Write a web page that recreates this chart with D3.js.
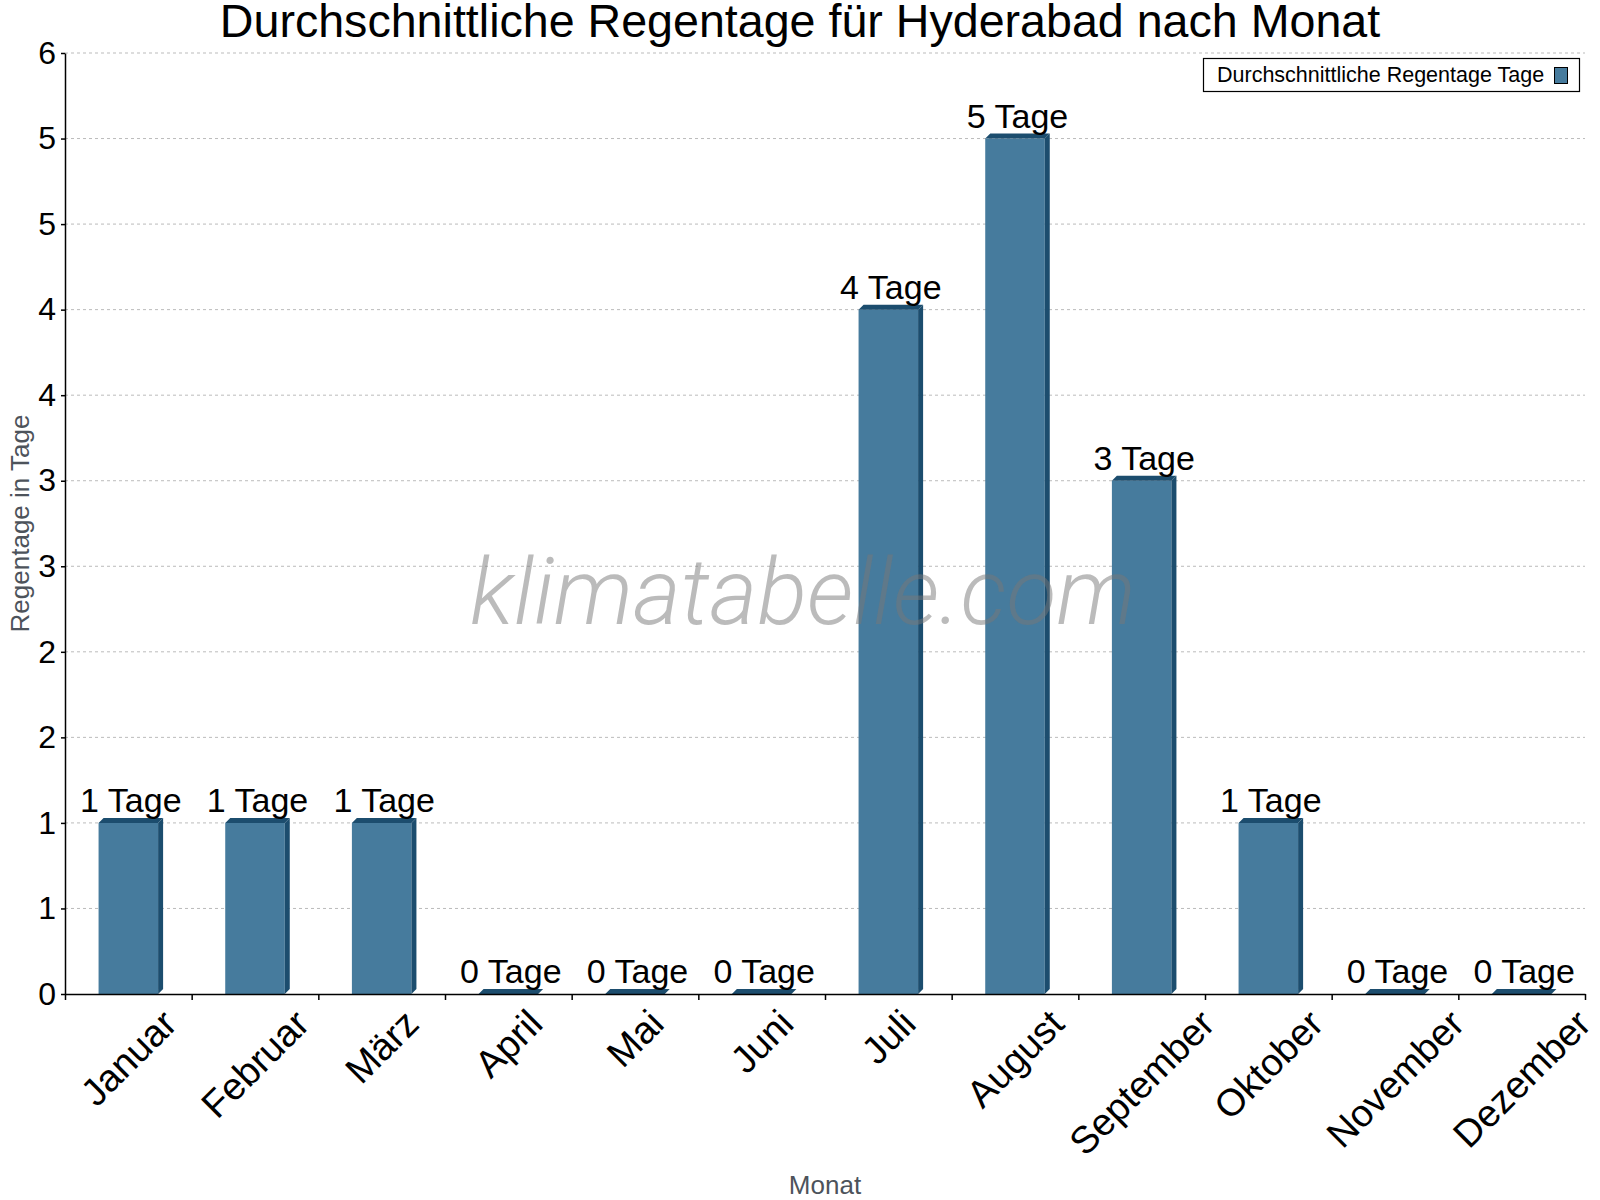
<!DOCTYPE html>
<html>
<head>
<meta charset="utf-8">
<script src="https://cdn.jsdelivr.net/npm/d3@7"></script>
<style>
  body { margin: 0; background: #fff; }
  svg { font-family: "Liberation Sans", Arial, sans-serif; }
</style>
</head>
<body>
<script>
// Data
const months = ["Januar", "Februar", "März", "April", "Mai", "Juni",
                "Juli", "August", "September", "Oktober", "November", "Dezember"];
const rainDays = [1, 1, 1, 0, 0, 0, 4, 5, 3, 1, 0, 0];
const yTicks = [0, 0.5, 1, 1.5, 2, 2.5, 3, 3.5, 4, 4.5, 5, 5.5];
const yTickLabels = ["0", "1", "1", "2", "2", "3", "3", "4", "4", "5", "5", "6"];
const seriesName = "Durchschnittliche Regentage Tage";

const width = 1600, height = 1200;
const margin = { top: 53, right: 15, bottom: 206, left: 65 };
const innerWidth = width - margin.left - margin.right;
const innerHeight = height - margin.top - margin.bottom;

const frontColor = "#467b9d";
const darkColor = "#1c4d6e";
const depth = 5;

const svg = d3.select("body")
    .append("svg")
    .attr("width", width)
    .attr("height", height);

const g = svg.append("g")
    .attr("transform", `translate(${margin.left},${margin.top})`);

// Scales
const xScale = d3.scaleBand()
    .domain(months)
    .range([0, innerWidth])
    .padding(0);

const xEdge = d3.scaleLinear()
    .domain([0, months.length])
    .range([0, innerWidth]);

const yScale = d3.scaleLinear()
    .domain([0, 5.5])
    .range([innerHeight, 0]);

// Grid lines
g.append("g")
    .selectAll("line")
    .data(yTicks.slice(1))
    .enter()
    .append("line")
    .attr("x1", 0)
    .attr("x2", innerWidth)
    .attr("y1", d => yScale(d))
    .attr("y2", d => yScale(d))
    .attr("stroke", "#bbb")
    .attr("stroke-width", 1)
    .attr("stroke-dasharray", "3,3");

// Bars (front, side, top)
const barW = xScale.bandwidth() * 0.47;
const bars = g.selectAll(".bar")
    .data(rainDays)
    .enter()
    .append("g")
    .attr("class", "bar");

bars.append("rect")
    .attr("x", (d, i) => xScale(months[i]) + xScale.bandwidth() / 2 - barW / 2)
    .attr("y", d => yScale(d))
    .attr("width", barW)
    .attr("height", d => innerHeight - yScale(d))
    .attr("fill", frontColor);

bars.append("polygon")
    .attr("points", (d, i) => {
        const x1 = xScale(months[i]) + xScale.bandwidth() / 2 + barW / 2;
        const yt = yScale(d), yb = yScale(0);
        return [[x1, yt], [x1 + depth, yt - depth], [x1 + depth, yb - depth], [x1, yb]].join(" ");
    })
    .attr("fill", darkColor);

bars.append("polygon")
    .attr("points", (d, i) => {
        const x0 = xScale(months[i]) + xScale.bandwidth() / 2 - barW / 2;
        const yt = yScale(d);
        return [[x0, yt], [x0 + depth, yt - depth], [x0 + barW + depth, yt - depth], [x0 + barW, yt]].join(" ");
    })
    .attr("fill", darkColor);

// Value labels
bars.append("text")
    .attr("x", (d, i) => xScale(months[i]) + xScale.bandwidth() / 2 + depth / 2)
    .attr("y", d => yScale(d) - 11)
    .attr("text-anchor", "middle")
    .attr("font-size", 34)
    .attr("fill", "#000")
    .text(d => `${d} Tage`);

// Y axis
const yAxis = g.append("g")
    .call(d3.axisLeft(yScale)
        .tickValues(yTicks)
        .tickFormat((d, i) => yTickLabels[i])
        .tickSize(4)
        .tickSizeOuter(0)
        .tickPadding(5));
yAxis.select(".domain").attr("stroke", "#000").attr("stroke-width", 1.5);
yAxis.selectAll(".tick line").attr("stroke", "#000").attr("stroke-width", 1.5);
yAxis.selectAll("text")
    .attr("font-size", 32)
    .attr("font-family", "Liberation Sans, Arial, sans-serif")
    .attr("fill", "#000");

// X axis: ticks at category boundaries
const xAxis = g.append("g")
    .attr("transform", `translate(0,${innerHeight})`)
    .call(d3.axisBottom(xEdge)
        .tickValues(d3.range(months.length + 1))
        .tickFormat("")
        .tickSize(6)
        .tickSizeOuter(0));
xAxis.select(".domain").attr("stroke", "#000").attr("stroke-width", 1.5);
xAxis.selectAll(".tick line").attr("stroke", "#000").attr("stroke-width", 1.5);

// Rotated month labels: bbox centered under band, top aligned
const labelTop = innerHeight + 13;
const labelSize = 38;
const xLabels = g.append("g")
    .selectAll("text")
    .data(months)
    .enter()
    .append("text")
    .attr("font-size", labelSize)
    .attr("text-anchor", "middle")
    .attr("dy", "0.35em")
    .attr("fill", "#000")
    .text(d => d);

xLabels.each(function (d) {
    const len = this.getComputedTextLength();
    const cx = xScale(d) + xScale.bandwidth() / 2;
    const cy = labelTop + (len / 2 + labelSize * 0.36) * Math.SQRT1_2;
    d3.select(this)
        .attr("transform", `translate(${cx},${cy}) rotate(-45)`);
});

// Axis titles
svg.append("text")
    .attr("x", margin.left + innerWidth / 2)
    .attr("y", 1194)
    .attr("text-anchor", "middle")
    .attr("font-size", 26)
    .attr("fill", "#4d535b")
    .text("Monat");

svg.append("text")
    .attr("transform", `translate(29,${margin.top + innerHeight / 2}) rotate(-90)`)
    .attr("text-anchor", "middle")
    .attr("font-size", 26)
    .attr("fill", "#4d535b")
    .text("Regentage in Tage");

// Title
svg.append("text")
    .attr("x", width / 2)
    .attr("y", 37)
    .attr("text-anchor", "middle")
    .attr("font-size", 46.6)
    .attr("fill", "#000")
    .text("Durchschnittliche Regentage für Hyderabad nach Monat");

// Legend
const legend = svg.append("g");
legend.append("rect")
    .attr("x", 1203.5)
    .attr("y", 58.5)
    .attr("width", 376)
    .attr("height", 33)
    .attr("fill", "#fff")
    .attr("stroke", "#000")
    .attr("stroke-width", 1.2);
legend.append("text")
    .attr("x", 1217)
    .attr("y", 82)
    .attr("font-size", 21.5)
    .attr("fill", "#000")
    .text(seriesName);
legend.append("rect")
    .attr("x", 1554.5)
    .attr("y", 67.5)
    .attr("width", 13)
    .attr("height", 16)
    .attr("fill", frontColor)
    .attr("stroke", "#000")
    .attr("stroke-width", 1);

// Watermark
svg.append("text")
    .attr("x", 470)
    .attr("y", 624)
    .attr("font-family", "Roboto, sans-serif")
    .attr("font-weight", 300)
    .attr("font-style", "italic")
    .attr("font-size", 92)
    .attr("fill", "rgba(120,120,120,0.5)")
    .text("klimatabelle.com");
</script>
</body>
</html>
